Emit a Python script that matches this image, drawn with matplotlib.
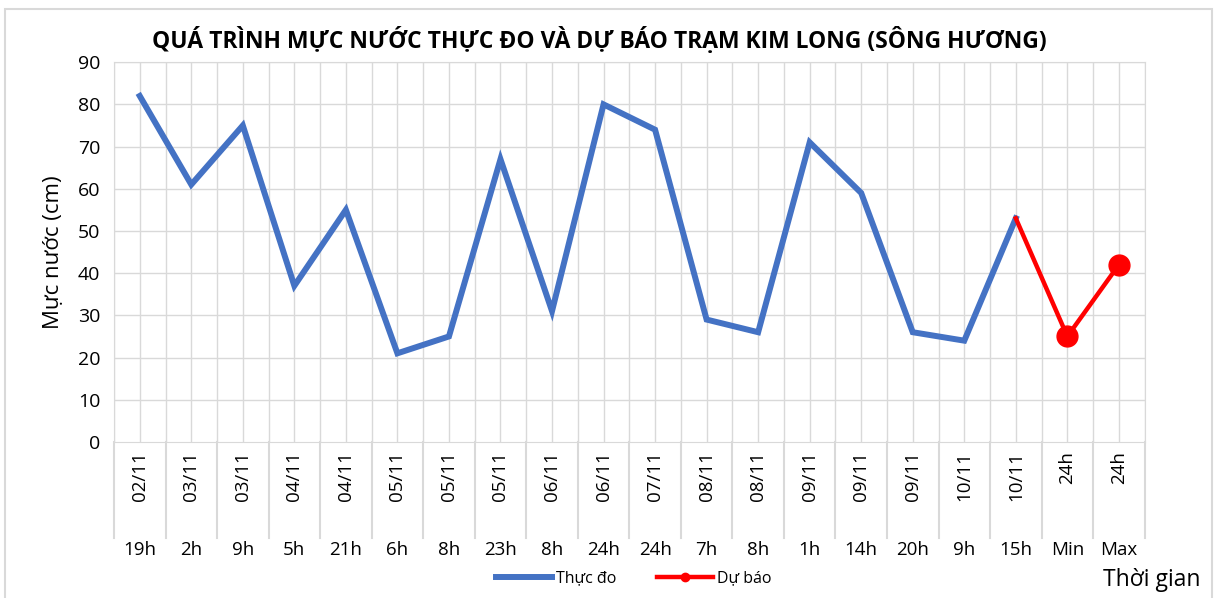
import matplotlib.pyplot as plt
import matplotlib.transforms as mtransforms

plt.rcParams['font.family'] = ['Open Sans', 'DejaVu Sans']

# du lieu doc tu bieu do
ngay = ["02/11", "03/11", "03/11", "04/11", "04/11", "05/11", "05/11", "05/11", "06/11", "06/11",
        "07/11", "08/11", "08/11", "09/11", "09/11", "09/11", "10/11", "10/11", "24h", "24h"]
gio = ["19h", "2h", "9h", "5h", "21h", "6h", "8h", "23h", "8h", "24h",
       "24h", "7h", "8h", "1h", "14h", "20h", "9h", "15h", "Min", "Max"]
thuc_do = [82, 61, 75, 37, 55, 21, 25, 67, 31, 80, 74, 29, 26, 71, 59, 26, 24, 53]
du_bao = [53, 25, 42]

n = len(gio)
x_td = list(range(len(thuc_do)))
x_db = list(range(len(thuc_do) - 1, n))

fig = plt.figure(figsize=(12.19, 5.98), dpi=100)
ax = fig.add_axes([0.0935, 0.261, 0.8455, 0.635])

grid_c = "#d9d9d9"
ax.plot(x_td, thuc_do, color="#4472c4", lw=4.3, solid_joinstyle="miter", label="Thực đo", zorder=3)
ax.plot(x_db, du_bao, color="red", lw=3.2, zorder=4, label="Dự báo")
ax.plot(x_db[1:], du_bao[1:], "o", color="red", ms=15, zorder=5)

ax.set_xlim(-0.5, n - 0.5)
ax.set_ylim(0, 90)
ax.set_yticks(range(0, 91, 10))
ax.tick_params(axis="y", length=0, labelsize=14, pad=10)
ax.set_xticks([])
for y in range(10, 91, 10):
    ax.axhline(y, color=grid_c, lw=1, zorder=1)
for i in range(n + 1):
    ax.axvline(i - 0.5, color=grid_c, lw=1, zorder=1)
for i in range(n):
    ax.axvline(i, color=grid_c, lw=1, zorder=1)
for s in ax.spines.values():
    s.set_color(grid_c)

# bang nhan truc x
trans = mtransforms.blended_transform_factory(ax.transData, ax.transAxes)
for i in range(n + 1):
    ax.plot([i - 0.5, i - 0.5], [0, -0.253], color=grid_c, lw=1.5, transform=trans, clip_on=False)
for i in range(n):
    ax.text(i, -0.025, ngay[i], rotation=90, ha="center", va="top", fontsize=13.5, transform=trans)
    ax.text(i, -0.285, gio[i], ha="center", va="center", fontsize=13.5, transform=trans)

ax.set_ylabel("Mực nước (cm)", fontsize=16, labelpad=10)
fig.text(0.492, 0.933, "QUÁ TRÌNH MỰC NƯỚC THỰC ĐO VÀ DỰ BÁO TRẠM KIM LONG (SÔNG HƯƠNG)",
         ha="center", va="center", fontsize=16.5, fontweight="bold")
fig.text(0.985, 0.03, "Thời gian", ha="right", va="center", fontsize=16.5)

h1, = ax.plot([], [], color="#4472c4", lw=4.3)
h2, = ax.plot([], [], color="red", lw=3.2, marker="o", ms=6)
fig.legend([h1, h2], ["Thực đo", "Dự báo"], loc="center", bbox_to_anchor=(0.52, 0.033),
           ncol=2, frameon=False, fontsize=11.5, handlelength=3.5, columnspacing=2.5, handletextpad=0.3)

border = plt.Rectangle((0.004, -0.01), 0.99, 0.995, transform=fig.transFigure, fill=False,
                       edgecolor=grid_c, lw=1.5)
fig.patches.append(border)

fig.savefig("out.png", dpi=100)
